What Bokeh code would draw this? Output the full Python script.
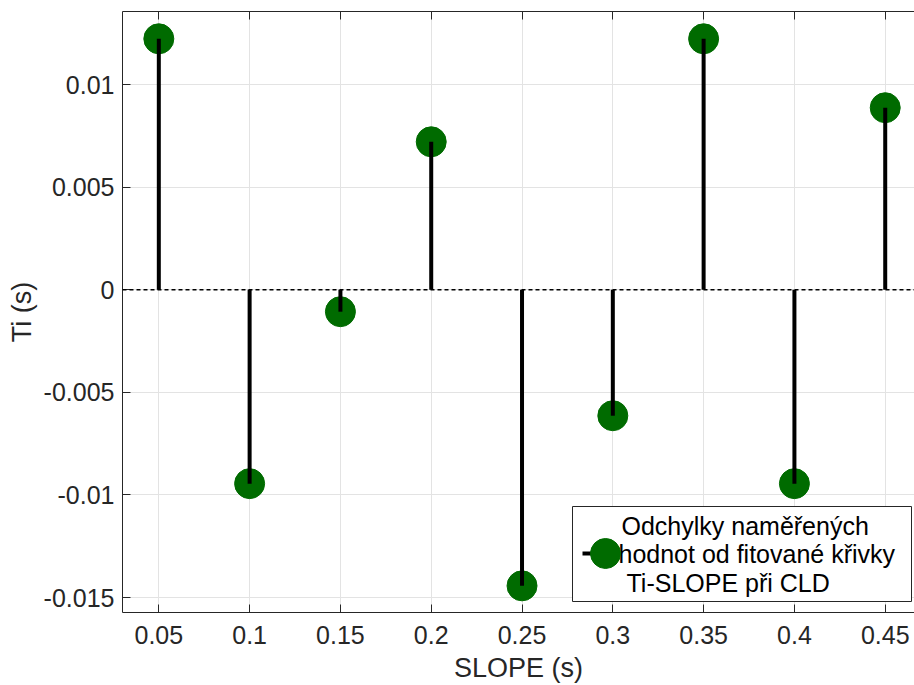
from bokeh.plotting import figure
from bokeh.models import (FixedTicker, LinearAxis, Range1d, Span, BoxAnnotation, Label)
from bokeh.embed import file_html
from bokeh.resources import INLINE

# ---- data ----
slope = [0.05, 0.10, 0.15, 0.20, 0.25, 0.30, 0.35, 0.40, 0.45]
ti_dev = [0.01223, -0.00945, -0.00107, 0.00721, -0.01443, -0.00614, 0.01223, -0.00945, 0.00887]
x_ticks = [0.05, 0.10, 0.15, 0.20, 0.25, 0.30, 0.35, 0.40, 0.45]
x_tick_labels = ["0.05", "0.1", "0.15", "0.2", "0.25", "0.3", "0.35", "0.4", "0.45"]
y_ticks = [-0.015, -0.01, -0.005, 0.0, 0.005, 0.01]
y_tick_labels = ["-0.015", "-0.01", "-0.005", "0", "0.005", "0.01"]
legend_lines = ["Odchylky naměřených", "hodnot od fitované křivky", "Ti-SLOPE při CLD"]
x_label = "SLOPE (s)"
y_label = "Ti (s)"

# ---- layout ----
FL, FT, FW, FH = 122, 11, 792, 601
X0, X1 = 0.03, 0.03 + 792 / 1816.0
Y0, Y1 = -0.01573, 0.01356
FONT = "Liberation Sans"
TXT = "#262626"
GREEN = "#006b00"

def px_x(px):
    return X0 + (px - FL) / FW * (X1 - X0)

def px_y(py):
    return Y1 - (py - FT) / FH * (Y1 - Y0)

p = figure(frame_width=FW, frame_height=FH, min_border_left=FL, min_border_top=FT,
           min_border_bottom=685 - FT - FH, min_border_right=0,
           x_range=Range1d(X0, X1), y_range=Range1d(Y0, Y1),
           output_backend="svg", toolbar_location=None, tools="",
           x_axis_label=x_label, y_axis_label=y_label)
p.outline_line_color = None
p.background_fill_color = "white"
p.border_fill_color = "white"

def style_axis(ax, ticks, labels, show_labels=True):
    ax.ticker = FixedTicker(ticks=ticks)
    ax.major_label_overrides = {t: l for t, l in zip(ticks, labels)}
    ax.major_tick_in = 8
    ax.major_tick_out = 0
    ax.minor_tick_in = 0
    ax.minor_tick_out = 0
    ax.axis_line_color = TXT
    ax.axis_line_width = 1
    ax.major_tick_line_color = TXT
    ax.major_label_text_font = FONT
    ax.major_label_text_font_size = "25px" if show_labels else "0px"
    ax.major_label_text_color = TXT
    ax.axis_label_text_font = FONT
    ax.axis_label_text_font_size = "27px"
    ax.axis_label_text_font_style = "normal"
    ax.axis_label_text_color = TXT

style_axis(p.xaxis[0], x_ticks, x_tick_labels)
style_axis(p.yaxis[0], y_ticks, y_tick_labels)
p.xaxis[0].major_label_standoff = 13
p.xaxis[0].axis_label_standoff = 6
p.yaxis[0].major_label_standoff = 8
p.yaxis[0].axis_label_standoff = 4

top = LinearAxis()
style_axis(top, x_ticks, [""] * len(x_ticks), show_labels=False)
top.major_label_standoff = 0
top.axis_label = None
p.add_layout(top, "above")

for g in (p.xgrid[0], p.ygrid[0]):
    g.grid_line_color = "#e3e3e3"
    g.grid_line_width = 1
p.xgrid[0].ticker = FixedTicker(ticks=x_ticks)
p.ygrid[0].ticker = FixedTicker(ticks=y_ticks)

# baseline
p.add_layout(Span(location=0, dimension="width", line_color="black",
                  line_width=1.3, line_dash="4 3"))

# markers then stems (stems drawn on top)
p.scatter(slope, ti_dev, size=30, marker="circle", fill_color=GREEN, line_color=GREEN)
p.segment(x0=slope, y0=[0] * len(slope), x1=slope, y1=ti_dev, line_color="black", line_width=4)

# legend
p.add_layout(BoxAnnotation(left=px_x(572), right=px_x(911), top=px_y(506), bottom=px_y(601),
                           fill_color="white", fill_alpha=1, line_color="#262626",
                           line_width=1, line_alpha=1))
for txt, lx, ly in zip(legend_lines, [621, 618, 626], [525, 553.5, 582]):
    p.add_layout(Label(x=px_x(lx), y=px_y(ly), text=txt, text_font=FONT,
                       text_font_size="25px", text_color="black",
                       text_baseline="middle", text_align="left"))
lr = p.line([px_x(582), px_x(605)], [px_y(553), px_y(553)], line_color="black", line_width=4)
lr.level = "overlay"
mr = p.scatter([px_x(605)], [px_y(553)], size=30, marker="circle", fill_color=GREEN, line_color=GREEN)
mr.level = "overlay"

open("out.html", "w").write(file_html(p, INLINE))
